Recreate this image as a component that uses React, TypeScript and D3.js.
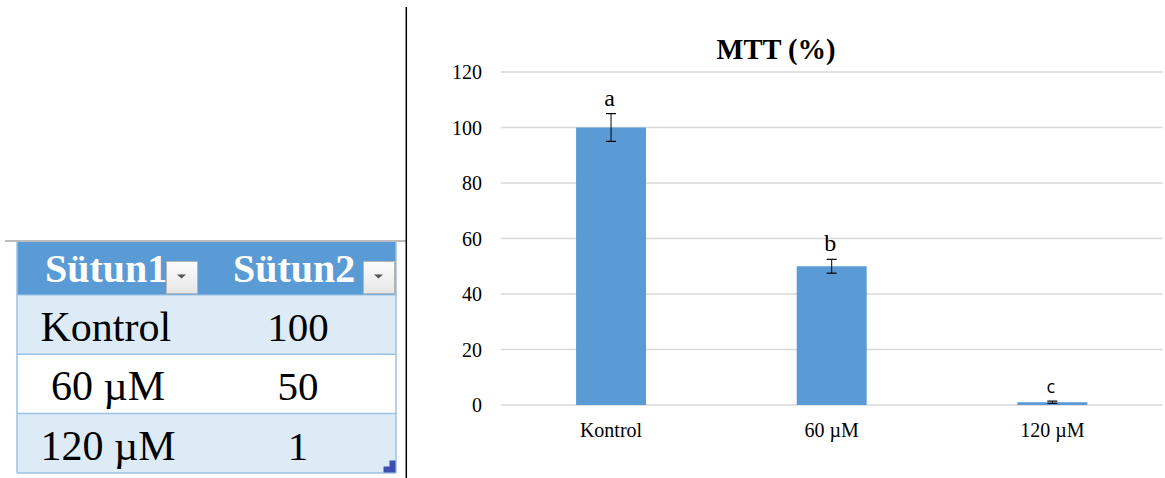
import React from 'react';
import * as d3 from 'd3';

const categories = ['Kontrol', '60 µM', '120 µM'];
const tableLabels = ['Kontrol', ' 60 µM', '120 µM'];
const values = [100, 50, 1];
const errors = [5, 2.5, 0.4];
const letters = ['a', 'b', 'c'];
const yTicks = [0, 20, 40, 60, 80, 100, 120];
const tableHeaders = ['Sütun1', 'Sütun2'];
const title = 'MTT (%)';

const SERIF = "'Liberation Serif', 'DejaVu Serif', 'Times New Roman', serif";
const SANS = "'Open Sans', 'DejaVu Sans', sans-serif";
const BLUE = '#5B9BD5';

export default function App() {
  const x = d3.scaleBand<string>().domain(categories).range([500.7, 1162.7]).paddingInner(0.683).paddingOuter(0.3415);
  const y = d3.scaleLinear().domain([0, 120]).range([405, 72]);
  const bw = x.bandwidth();

  const rowTop = (i: number) => 295 + i * 59.3;
  const rowH = 59.3;
  const tLeft = 17, tRight = 396, headTop = 242;
  const col2 = 298;

  return (
    <svg width={1165} height={478} style={{ position: 'absolute', left: 0, top: 0, background: '#fff' }}>
      {/* ---------- table ---------- */}
      <line x1={5} x2={406} y1={241} y2={241} stroke="#a6a6a6" strokeWidth={1.5} />
      <rect x={tLeft} y={headTop} width={tRight - tLeft} height={295 - headTop} fill={BLUE} />
      {values.map((v, i) => (
        <rect key={'r' + i} x={tLeft} y={rowTop(i)} width={tRight - tLeft} height={rowH}
          fill={i % 2 === 0 ? '#DDEBF7' : '#ffffff'} />
      ))}
      {values.map((v, i) => (
        <line key={'b' + i} x1={tLeft} x2={tRight} y1={rowTop(i) + rowH} y2={rowTop(i) + rowH} stroke="#9BC2E6" strokeWidth={1.5} />
      ))}
      <line x1={tLeft} x2={tLeft} y1={headTop} y2={rowTop(3)} stroke="#9BC2E6" strokeWidth={1.5} />
      <line x1={tRight} x2={tRight} y1={headTop} y2={rowTop(3)} stroke="#9BC2E6" strokeWidth={1.5} />
      <line x1={tLeft} x2={tRight} y1={295} y2={295} stroke="#9BC2E6" strokeWidth={1} />
      {tableHeaders.map((h, i) => (
        <text key={'h' + i} x={i === 0 ? 45 : 233} y={282} style={{ fontFamily: SERIF }} fontWeight="bold" fontSize={40} fill="#fff">{h}</text>
      ))}
      {[166.5, 363.5].map((bx, i) => (
        <g key={'dd' + i}>
          <defs>
            <linearGradient id={'gdd' + i} x1="0" x2="0" y1="0" y2="1">
              <stop offset="0" stopColor="#fdfdfd" />
              <stop offset="1" stopColor="#e6e6e6" />
            </linearGradient>
          </defs>
          <rect x={bx} y={261.5} width={31} height={32} fill={`url(#gdd${i})`} stroke="#b5b5b5" strokeWidth={1} />
          <path d={`M${bx + 10.5},${274.5} L${bx + 19.5},${274.5} L${bx + 15},${278.5} Z`} fill="#555" />
        </g>
      ))}
      {tableLabels.map((c, i) => (
        <text key={'tl' + i} x={40.5} y={rowTop(i) + 46} style={{ fontFamily: SERIF, whiteSpace: 'pre' }} fontSize={42} fill="#000">{c}</text>
      ))}
      {values.map((v, i) => (
        <text key={'tv' + i} x={col2} y={rowTop(i) + 46} textAnchor="middle" style={{ fontFamily: SERIF }} fontSize={41} fill="#000">{v}</text>
      ))}
      <path d="M395.5,460.5 L395.5,472.5 L383.5,472.5 L383.5,466.5 L389.5,466.5 L389.5,460.5 Z" fill="#3c4fb0" />

      {/* divider */}
      <line x1={406.3} x2={406.3} y1={7} y2={478} stroke="#000" strokeWidth={1.5} />

      {/* ---------- chart ---------- */}
      <text x={776} y={59} textAnchor="middle" style={{ fontFamily: SERIF }} fontWeight="bold" fontSize={28.5} fill="#000">{title}</text>
      {yTicks.map((t) => (
        <g key={'g' + t}>
          <line x1={500.7} x2={1162.7} y1={y(t)} y2={y(t)} stroke="#d9d9d9" strokeWidth={1.5} />
          <text x={482} y={y(t) + 7} textAnchor="end" style={{ fontFamily: SERIF }} fontSize={20} fill="#000">{t}</text>
        </g>
      ))}
      {categories.map((c, i) => {
        const x0 = x(c)!;
        const cx = x0 + bw / 2;
        const v = values[i];
        const e = errors[i];
        return (
          <g key={'bar' + i}>
            <rect x={x0} y={y(v)} width={bw} height={y(0) - y(v)} fill={BLUE} />
            <line x1={cx} x2={cx} y1={y(v + e)} y2={y(v - e)} stroke="#000" strokeWidth={1} />
            <line x1={cx - 5} x2={cx + 5} y1={y(v + e)} y2={y(v + e)} stroke="#000" strokeWidth={1.2} />
            <line x1={cx - 5} x2={cx + 5} y1={y(v - e)} y2={y(v - e)} stroke="#000" strokeWidth={1.2} />
            <text x={cx - 1.5} y={y(v + e) - 8} textAnchor="middle"
              style={{ fontFamily: i === 2 ? SANS : SERIF }} fontSize={i === 2 ? 18 : 24} fill="#000">{letters[i]}</text>
            <text x={cx} y={437} textAnchor="middle" style={{ fontFamily: SERIF }} fontSize={20} fill="#000">{c}</text>
          </g>
        );
      })}
    </svg>
  );
}
